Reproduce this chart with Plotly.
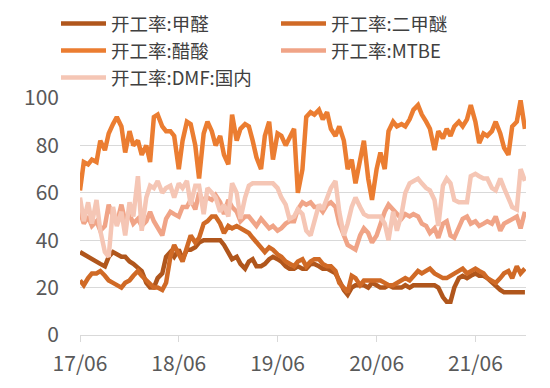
import pandas as pd
import plotly.graph_objects as go

# semi-monthly observations, 2017-06 .. 2021-12
dates = pd.date_range("2017-06-01", periods=109, freq="SMS")

names = ["开工率:甲醛", "开工率:二甲醚", "开工率:醋酸", "开工率:MTBE", "开工率:DMF:国内"]

formaldehyde = [35,34,33,32,31,30,29,33,35,34,33,33,31,30,28,27,22,20,20,24,26,33,35,33,36,
                32,36,36,37,39,40,40,40,40,40,38,35,32,33,30,28,31,32,29,29,30,32,33,32,31,29,28,28,
                29,28,28,30,30,29,28,28,27,26,23,19,17,20,21,21,21,20,22,21,20,20,21,20,20,20,21,20,
                21,21,21,21,21,21,20,16,14,14,20,24,25,24,25,26,25,25,24,22,21,19,18,18,18,18,18,18]

dme = [23,21,24,26,26,27,25,23,22,21,20,22,23,25,27,25,23,21,20,20,19,22,33,38,34,
       31,37,42,39,41,47,48,50,50,47,43,46,45,46,45,44,43,41,39,37,35,37,36,34,33,31,30,29,
       31,32,29,31,32,32,30,29,29,27,22,20,18,25,24,21,23,23,23,23,23,22,21,21,22,23,24,23,
       25,27,26,27,28,26,25,24,24,25,26,27,28,26,27,28,27,26,24,23,22,24,26,27,24,29,26,28]

acetic = [61,73,72,74,73,82,78,85,89,92,88,77,86,80,82,76,80,73,92,93,88,86,86,84,70,82,90,89,80,66,
          85,90,86,80,84,76,72,93,82,87,89,88,82,75,70,84,90,74,85,84,80,83,87,60,70,92,94,93,95,91,
          94,87,84,88,82,70,74,64,75,82,66,57,70,77,70,86,90,88,89,88,91,95,97,93,90,87,78,86,83,87,
          84,88,90,88,91,97,90,81,85,84,86,90,85,79,76,88,90,99,87]

mtbe = [52,47,50,46,48,44,46,55,50,47,55,48,51,47,49,46,48,52,48,45,42,49,52,51,50,
        54,54,57,53,60,56,58,57,59,56,51,57,54,52,48,50,50,48,46,49,47,45,46,44,45,47,48,48,
        53,56,55,56,54,54,52,55,56,54,47,42,38,37,36,42,45,43,39,42,47,52,55,53,51,49,51,50,
        51,50,47,46,43,45,41,47,48,42,41,46,49,50,47,48,46,47,48,47,50,44,47,48,49,50,45,52]

dmf = [58,48,56,47,57,44,35,33,54,46,52,42,56,50,67,44,58,63,62,65,60,62,63,58,64,
       62,65,55,63,63,51,62,60,58,52,55,50,64,60,49,58,63,64,64,64,64,64,64,62,58,55,49,50,
       53,51,44,42,48,55,53,58,62,65,52,42,47,54,58,54,51,50,50,50,50,47,40,52,44,51,60,64,
       65,66,64,62,61,57,46,63,66,64,57,56,56,56,67,68,67,66,66,62,61,66,62,57,54,53,70,65]

series = [formaldehyde, dme, acetic, mtbe, dmf]
colors = ["#B0561C", "#D06A26", "#EB7D31", "#F0A487", "#F5C6B5"]
legend_rows = ["legend", "legend", "legend2", "legend2", "legend3"]

tick_vals = ["2017-06-01", "2018-06-01", "2019-06-01", "2020-06-01", "2021-06-01"]
tick_text = ["17/06", "18/06", "19/06", "20/06", "21/06"]

fig = go.Figure()
for name, vals, col, lg in zip(names, series, colors, legend_rows):
    fig.add_trace(go.Scatter(x=dates, y=vals, name=name, mode="lines",
                             line=dict(color=col, width=4.5), legend=lg))

font_family = "Noto Sans CJK SC, Noto Sans, sans-serif"


def legend_row(ypix):
    return dict(orientation="h", xref="container", yref="container",
                x=48 / 550, y=1 - ypix / 388, xanchor="left", yanchor="middle",
                entrywidth=160, entrywidthmode="pixels", traceorder="normal",
                font=dict(size=18.5, color="#404040"), bgcolor="rgba(0,0,0,0)",
                borderwidth=0, itemwidth=45, tracegroupgap=0)


fig.update_layout(
    template="none",
    width=550, height=388,
    margin=dict(l=72, r=32, t=90, b=61, autoexpand=False),
    paper_bgcolor="white", plot_bgcolor="white",
    font=dict(family=font_family, size=21, color="#595959"),
    showlegend=True,
    legend=legend_row(16),
    legend2=legend_row(43),
    legend3=legend_row(70),
    xaxis=dict(range=["2017-06-01", "2021-12-05"], tickvals=tick_vals, ticktext=tick_text,
               showgrid=False, showline=True, linecolor="#d9d9d9", linewidth=1,
               ticks="outside", ticklen=6, tickcolor="#d9d9d9", zeroline=False,
               ticklabelstandoff=4, automargin=False),
    yaxis=dict(range=[0, 100], tickvals=[0, 20, 40, 60, 80, 100], showgrid=True,
               gridcolor="#d9d9d9", gridwidth=1, zeroline=False, showline=False,
               ticks="", ticklabelstandoff=20, automargin=False),
)

fig.write_html("out.html")
